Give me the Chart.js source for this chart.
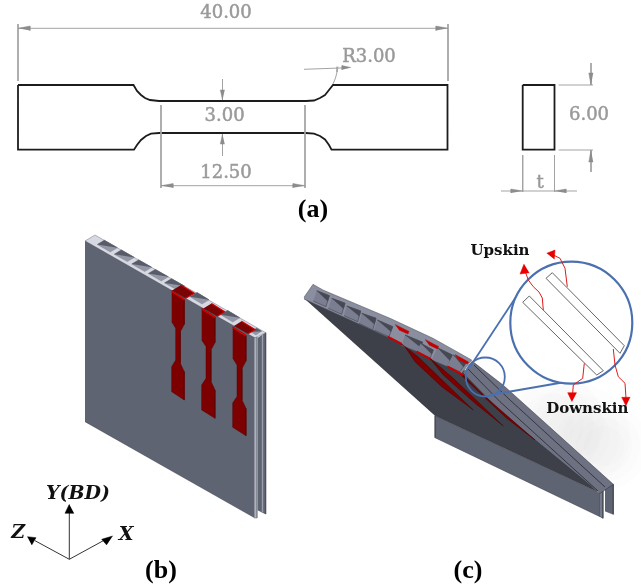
<!DOCTYPE html>
<html>
<head>
<meta charset="utf-8">
<style>html,body{margin:0;background:#fff}canvas{display:block}</style>
<script src="https://cdn.jsdelivr.net/npm/chart.js@4/dist/chart.umd.min.js"></script>
</head>
<body>
<canvas id="graph" width="641" height="585"></canvas>
<script>
// outline of the tensile specimen, panel (a)
const dogbone = [[18,85],[133.5,85],[137,91],[141,95],[145,98],[150,100],[159,101],[306,101],[314,100.5],[320,98],[325,95],[329,90],[333,85],[447.5,85],[447.5,149.7],[331.5,149.7],[329,145],[325,139.5],[320,136],[314,133.7],[306,133],[159,133],[151,133.7],[146,136],[141,140],[137,145],[134,149.7],[18,149.7],[18,85]];
const sideView = [[522.7,85],[554.5,85],[554.5,149.7],[522.7,149.7],[522.7,85]];

// dimension lines
const dimLines = [
  [[18,28.3],[448,28.3]], [[18,24],[18,81]], [[448,24],[448,81]],
  [[304,69.3],[349,67.7]],
  [[222.5,79],[222.5,100]], [[222.5,134],[222.5,156]],
  [[161,105],[161,188]], [[305,105],[305,188]], [[161,185.7],[305,185.7]],
  [[558.6,85],[593,85]], [[558.6,150],[593,150]],
  [[591,63],[591,85]], [[591,150],[591,172]],
  [[522.7,155],[522.7,192]], [[554.5,155],[554.5,192]],
  [[501,191],[577,191]]
];
const radiusLeader = [[338,66.7],[337,72],[335.5,78],[333,84]];
const dimArrows = [
  [[18,28.3],[30,26],[30,30.6]], [[448,28.3],[436,26],[436,30.6]],
  [[351,67.6],[342,65.6],[342,69.8]],
  [[222.5,100],[220.3,90],[224.7,90]], [[222.5,134],[220.3,144],[224.7,144]],
  [[161,185.7],[173,183.6],[173,187.8]], [[305,185.7],[293,183.6],[293,187.8]],
  [[591,85],[588.8,73],[593.2,73]], [[591,150],[588.8,162],[593.2,162]],
  [[522.7,191],[511,189],[511,193]], [[554.5,191],[566,189],[566,193]]
];

// panel (b): plates and slots
const bBackPlate = [[257.7,338.3],[265.7,332.7],[265.7,514],[257.7,510]];
const bBackEdge = [[262.5,335],[262.5,512.5]];
const bBand = [[85,241],[95,235],[265.7,332.7],[255,338]];
const bFrontPlate = [[85,241],[255,338],[255,518],[85,421.7]];
const bEdge = [[254.3,338],[257,337],[257,518],[254.3,518]];
const bCells = [
  [[97.3,244.5],[110.3,251.9],[117.3,247.7],[104.3,240.3]],
  [[114.3,254.2],[127.3,261.6],[134.3,257.4],[121.3,250]],
  [[131.7,264.1],[144.7,271.5],[151.7,267.3],[138.7,259.9]],
  [[148.3,273.6],[161.3,281],[168.3,276.8],[155.3,269.4]],
  [[164.5,282.9],[177.5,290.3],[184.5,286.1],[171.5,278.7]],
  [[190,296.7],[202,304],[209,299.8],[197,292.5]],
  [[220.7,314.7],[232.7,322],[239.7,317.8],[227.7,310.5]],
  [[251,332],[256,335],[261.5,331.2],[256.5,328.2]]
];
const bRedTops = [
  [[171.7,290.7],[184.3,299],[194.3,293.3],[181,285]],
  [[202.4,309],[215.7,317.3],[224.7,311.8],[211.5,303.5]],
  [[232.7,326.7],[246,335],[255,329.5],[241.5,321.3]]
];
const bSpecimens = [
  [[171.7,290.7],[184.3,299],[184.3,324.3],[180.3,331.7],[180.3,363.3],[184.3,371.7],[184.3,400],[171.7,391.7],[171.7,366.7],[175.7,360],[175.7,328.3],[171.7,321.7]],
  [[201.7,308.3],[215,316.7],[215,342.5],[211,350],[211,381.5],[215,390],[215,418.3],[201.7,410],[201.7,385],[206,378.3],[206,346.5],[201.7,340]],
  [[232.7,326.7],[246,335],[246,361],[242,368.5],[242,400],[246,408.5],[246,435.7],[232.7,427.3],[232.7,403],[237,396.5],[237,365],[232.7,358]]
];
const bSpecimenTops = [
  [[171.7,291.5],[184.8,299.8]], [[201.7,309],[215.2,317.5]], [[232.7,327.4],[246.2,335.8]]
];

// axes triad
const axisLines = [
  [[69.3,559.3],[69.3,512]], [[69.3,559.3],[35,540.7]], [[69.3,559.3],[104,540.3]]
];
const axisHeads = [
  [[69.3,504.3],[65,513.3],[74,513.3]],
  [[27.3,536.7],[36,537.7],[31.7,545]],
  [[112.7,536],[101.7,539.3],[106.7,545]]
];

// panel (c): tilted plate
const cLowerPlate = [[435,415.7],[435,437.7],[600,516.7],[600,493]];
const cEndBack = [[605,487],[613.3,484.3],[613.3,514.3],[605,511]];
const cEndFront = [[600,493],[603,491],[603,518.3],[600,516.7]];
const cUnderside = [[304,298.3],[390,333],[466.7,371.7],[597,491.5],[435,415.7]];
const cTopStrip = [[472,361],[503,385],[613.3,484.3],[605,490],[600,493.3],[500,411],[463,373]];
const cStripLines = [
  [[474,365],[510,400],[605,487]],
  [[468,369],[500,401.7],[598,491]]
];
const cBand = [[304,297.3],[313,284.3],[323,290],[390,318.3],[433,338.3],[471.7,360],[461.7,373.3],[430,358.3],[387,336.7],[304,299]];
const cCells = [
  [[316.7,290.7],[329.3,295.7],[326,306.7],[313.3,301]],
  [[331.7,298.3],[345,303.3],[341.7,314.3],[328.3,308.3]],
  [[346.7,306],[360.7,311],[357.7,321.7],[344,315.7]],
  [[361.7,313.3],[376,318.3],[372.7,330],[359,323.3]],
  [[377.3,320],[392.7,326.7],[389,336.7],[374,330]],
  [[405,335],[422.7,342.3],[417.3,351.7],[401.7,345.7]],
  [[420.7,343.3],[433.3,350],[430,358.3],[416.7,351.7]],
  [[437.3,347.7],[452.3,355],[447.3,366.7],[431.7,360]],
  [[453.3,355],[466.7,362.3],[460,371.7],[446.7,365.7]]
];
const cRedTops = [
  [[395,324.5],[409,331.5],[408,334],[399,330]],
  [[425,339.5],[438.5,346.5],[437.5,349],[429,345]],
  [[455,354.5],[468.5,362],[467.5,364],[459,360]]
];
const cSlots = [
  [[387.7,336.7],[401.7,344],[418,356.7],[473.3,410],[441.7,386.7],[415,361.7],[405,346.7]],
  [[416.7,351.7],[431,359],[453.3,378.3],[503.3,426],[475,403.3],[443.3,375],[432,361]],
  [[447.7,366.7],[463,375],[483.3,395],[535,440],[506.7,418.3],[475,388.3],[462,376]]
];
const cSlotTops = [
  [[387.7,336.7],[401.7,344]], [[416.7,351.7],[430.5,358.8]], [[447.7,366.7],[463,375]]
];

// magnifier
const lensBig = [[571.3,322.7]];
const lensSmall = [[485.3,377]];
const lensRays = [
  [[470,366.7],[521.7,288.3]], [[490,395],[568,381.5]]
];
const lensStrips = [
  [[522.7,302.3],[529.3,296],[603.3,370.7],[596.7,375],[522.7,302.3]],
  [[546,278.3],[552.3,272.7],[624.3,345.7],[620,353.3],[546,278.3]]
];
const redCurves = [
  [[543.3,310],[542.3,298],[539,292],[533.3,286.7],[528.3,280],[525,271]],
  [[567.3,286.7],[565,268.3],[560,258.3],[553.3,255]],
  [[584.3,363.3],[582.7,378.3],[573.3,385],[572.7,393]],
  [[613.3,349],[615,365],[618.3,376.7],[625,383.3],[626,398]]
];
const redHeads = [
  [[524,264],[520,274],[529.3,272.7]],
  [[546.7,253.3],[555,250],[554.3,259.3]],
  [[572,401.7],[567.7,392.7],[576.7,392.7]],
  [[626,406],[621.7,397.3],[630.3,397.3]]
];
const softShadow = [[552,425],[552,425],[552,425],[552,425],[578,436],[578,436],[578,436],[578,436],[604,446],[604,446],[604,446],[604,446]];
const shadowRadii = [52,42,32,22,52,42,32,22,44,36,28,20];

// text: string, x, y
const grayLabels = [['40.00',226,13],['R3.00',369,57],['3.00',224.6,116],['12.50',226,173],['6.00',589,115],['t',540,183]];
const panelLabels = [['(a)',313,210],['(b)',161,571.7],['(c)',468,571]];
const skinLabels = [['Upskin',500,251],['Downskin',587.3,409.3]];
const axisLabels = [['Y(BD)',78,494],['Z',18.3,533.3],['X',126,535]];

const layers = [];
function poly(points, fill, stroke, width) {
  layers.push({data: points, showLine: true, fill: 'shape', backgroundColor: fill,
    borderColor: stroke || fill, borderWidth: width === undefined ? 0.5 : width, pointRadius: 0, tension: 0});
}
function line(points, color, width) {
  layers.push({data: points, showLine: true, fill: false, borderColor: color, borderWidth: width, pointRadius: 0, tension: 0});
}
function circle(points, radius, fill, stroke, width) {
  layers.push({data: points, showLine: false, pointRadius: radius, pointHoverRadius: radius, pointStyle: 'circle',
    backgroundColor: fill, borderColor: stroke, borderWidth: width});
}

const GRAY = '#a3a3a3', SLATE = '#5f6473', RED = '#7c0000', BLUE = '#4a70b0';

// panel (a)
poly(dogbone, '#ffffff', '#1c1c1c', 1.8);
poly(sideView, '#ffffff', '#1c1c1c', 1.8);
dimLines.forEach(l => line(l, GRAY, 1));
line(radiusLeader, GRAY, 1);
dimArrows.forEach(a => poly(a, '#8c8c8c'));

// panel (b)
poly(bBackPlate, SLATE, '#3c3f4a');
line(bBackEdge, '#9a9eab', 1.4);
poly(bBand, '#d6d9e2', '#6f7380');
bCells.forEach(c => {
  poly(c, '#9397a6', '#7a7e8c', 0.4);
  poly([c[0], c[3], c[2]], '#585b68');   // shaded half of the cell
});
bRedTops.forEach(c => poly(c, '#7a0303', '#d00000', 1.1));
poly(bFrontPlate, SLATE, '#3c3f4a');
poly(bEdge, '#aeb2bd', '#6a6e7a');
bSpecimens.forEach(s => poly(s, RED, '#5a0000'));
bSpecimenTops.forEach(l => line(l, '#e00000', 1.4));
axisLines.forEach(l => line(l, '#333333', 1));
axisHeads.forEach(h => poly(h, '#000000'));

// panel (c)
layers.push({data: softShadow, showLine: false, pointRadius: shadowRadii, borderWidth: 0,
  backgroundColor: 'rgba(60,60,60,0.012)'});
poly(cLowerPlate, SLATE, '#3c3f4a');
poly(cEndBack, SLATE, '#33353f');
poly(cEndFront, '#767a88', '#33353f');
poly(cUnderside, '#3e4049', '#2e3037');
poly(cTopStrip, '#6d7181', '#2e3037');
cStripLines.forEach(l => line(l, '#2e3037', 0.9));
poly(cBand, '#8a8e9e', '#4a4d59');
cCells.forEach(c => {
  poly(c, '#7a7e90', '#3f414c', 0.6);
  // dark wedge under the top edge of each cell
  poly([c[0], c[1], [(c[1][0] + c[2][0]) / 2, (c[1][1] + c[2][1]) / 2]], '#464853');
});
cRedTops.forEach(c => poly(c, '#c40000'));
cSlots.forEach(s => poly(s, '#7c0000', '#4c0000'));
cSlotTops.forEach(l => line(l, '#c80000', 2));
circle(lensSmall, 19.5, 'rgba(0,0,0,0)', BLUE, 1.8);
lensRays.forEach(l => line(l, BLUE, 1.8));
circle(lensBig, 61, '#ffffff', BLUE, 2.2);
lensStrips.forEach(s => line(s, '#555555', 0.9));
redCurves.forEach(c => line(c, '#e21a1a', 1));
redHeads.forEach(h => poly(h, '#e80000'));

const labelPlugin = {
  id: 'labels',
  afterDraw(chart) {
    const {ctx, scales} = chart;
    const put = (rows, font, color, heavy) => {
      ctx.font = font;
      ctx.fillStyle = color;
      ctx.strokeStyle = color;
      ctx.lineWidth = heavy || 0;
      ctx.textAlign = 'center';
      ctx.textBaseline = 'middle';
      rows.forEach(r => {
        const px = scales.x.getPixelForValue(r[1]), py = scales.y.getPixelForValue(r[2]);
        ctx.fillText(r[0], px, py);
        if (heavy) ctx.strokeText(r[0], px, py);
      });
    };
    ctx.save();
    put(grayLabels, '18px "DejaVu Serif"', '#9a9a9a', 0.5);
    put(panelLabels, 'bold 26px "Liberation Serif"', '#000000');
    put(skinLabels, 'bold 15px "DejaVu Serif"', '#111111');
    put(axisLabels, 'italic bold 19px "DejaVu Serif"', '#111111');
    ctx.restore();
  }
};

new Chart(document.getElementById('graph'), {
  type: 'scatter',
  // first dataset is drawn last, so flip to paint back to front
  data: {datasets: layers.slice().reverse()},
  options: {
    responsive: false,
    animation: false,
    events: [],
    layout: {padding: 0, autoPadding: false},
    plugins: {legend: {display: false}, tooltip: {enabled: false}},
    scales: {
      x: {type: 'linear', min: 0, max: 641, display: false},
      y: {type: 'linear', min: 0, max: 585, reverse: true, display: false}
    }
  },
  plugins: [labelPlugin]
});
</script>
</body>
</html>
